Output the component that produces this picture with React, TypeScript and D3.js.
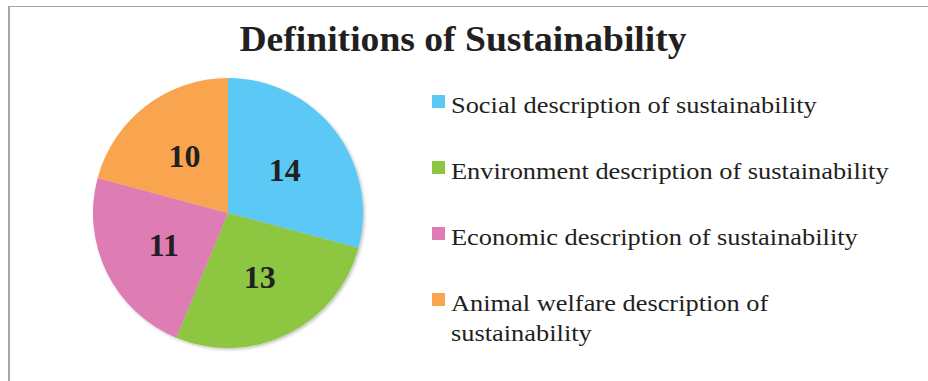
import React from "react";
import * as d3 from "d3";

const categories = [
  "Social description of sustainability",
  "Environment description of sustainability",
  "Economic description of sustainability",
  "Animal welfare description of sustainability",
];
const legendLines = [
  ["Social description of sustainability"],
  ["Environment description of sustainability"],
  ["Economic description of sustainability"],
  ["Animal welfare description of", "sustainability"],
];
const values = [14, 13, 11, 10];
const colors = ["#5BC8F5", "#8DC63F", "#DE7DB4", "#F9A54F"];
const title = "Definitions of Sustainability";

export default function App() {
  const W = 928, H = 381;
  const cx = 228, cy = 213, R = 135;
  const pie = d3.pie<number>().sort(null).value((d) => d)(values);
  const arc = d3.arc<d3.PieArcDatum<number>>().innerRadius(0).outerRadius(R);
  const labelArc = d3.arc<d3.PieArcDatum<number>>().innerRadius(R * 0.53).outerRadius(R * 0.53);
  const serif = "'Liberation Serif', 'Times New Roman', serif";
  const lx = 451;
  return (
    <svg width={W} height={H} style={{ position: "absolute", left: 0, top: 0, display: "block" }}>
      <defs>
        <filter id="sh" x="-20%" y="-20%" width="140%" height="140%">
          <feDropShadow dx="1.5" dy="1.5" stdDeviation="1.5" floodColor="#000" floodOpacity="0.25" />
        </filter>
      </defs>
      <rect x={0} y={0} width={W} height={H} fill="#fff" />
      <line x1={9} y1={6} x2={9} y2={H} stroke="#a6a6a6" strokeWidth={2} />
      <line x1={8} y1={6.5} x2={W} y2={6.5} stroke="#a6a6a6" strokeWidth={1} />
      <g transform={`translate(463,51) scale(1.045,1)`}>
        <text x={0} y={0} textAnchor="middle" fontFamily={serif} fontWeight="bold" fontSize={36} fill="#231F20">
          {title}
        </text>
      </g>
      <g transform={`translate(${cx},${cy})`}>
        <g filter="url(#sh)">
          {pie.map((p, i) => (
            <path key={categories[i]} d={arc(p) || ""} fill={colors[i]} />
          ))}
        </g>
        {pie.map((p, i) => {
          const [x, y] = labelArc.centroid(p);
          return (
            <text key={"l" + i} x={x} y={y} dy="0.35em" textAnchor="middle" fontFamily={serif} fontWeight="bold" fontSize={32} fill="#231F20">
              {values[i]}
            </text>
          );
        })}
      </g>
      <g>
        {legendLines.map((lines, i) => {
          const by = 113 + i * 66;
          return (
            <g key={"g" + i}>
              <rect x={432} y={by - 18} width={13} height={13} fill={colors[i]} />
              <g transform={`translate(${lx},0) scale(1.148,1)`}>
                {lines.map((t, j) => (
                  <text key={j} x={0} y={by + j * 30} fontFamily={serif} fontSize={23} fill="#231F20">
                    {t}
                  </text>
                ))}
              </g>
            </g>
          );
        })}
      </g>
    </svg>
  );
}
